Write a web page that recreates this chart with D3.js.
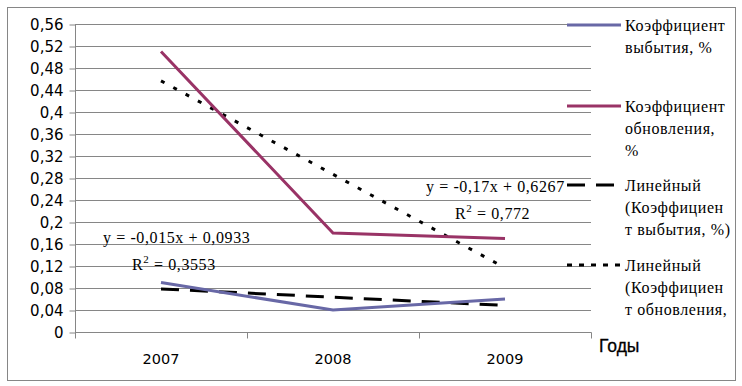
<!DOCTYPE html>
<html><head><meta charset="utf-8">
<script src="https://cdn.jsdelivr.net/npm/d3@7"></script>
<style>body{margin:0;background:#fff}svg{display:block}</style>
</head><body>
<svg id="c" width="742" height="386"></svg>
<script>
const years = ["2007", "2008", "2009"];
const retirement = [0.09, 0.04, 0.06];   // Коэффициент выбытия
const renewal = [0.51, 0.18, 0.17];      // Коэффициент обновления
const yTicks = [0, 0.04, 0.08, 0.12, 0.16, 0.2, 0.24, 0.28, 0.32, 0.36, 0.4, 0.44, 0.48, 0.52, 0.56];
const trendRet = {a: -0.015, b: 0.0933, eq: "y = -0,015x + 0,0933", r2: "0,3553"};
const trendRen = {a: -0.17, b: 0.6267, eq: "y = -0,17x + 0,6267", r2: "0,772"};
const legendLabels = [
  ["Коэффициент", "выбытия, %"],
  ["Коэффициент", "обновления,", "%"],
  ["Линейный", "(Коэффициен", "т выбытия, %)"],
  ["Линейный", "(Коэффициен", "т обновления,"]
];

const svg = d3.select("#c");
const grid = "#868686";
const cRet = "#6868a6", cRen = "#993366";

svg.append("rect").attr("x", 7.5).attr("y", 7.5).attr("width", 728).attr("height", 373)
  .attr("fill", "#fff").attr("stroke", grid).attr("stroke-width", 1);

const x = d3.scaleBand().domain(years).range([75, 591]);
const y = d3.scaleLinear().domain([0, 0.56]).range([332, 24]);
const cx = d => x(d) + x.bandwidth() / 2;

// gridlines
svg.append("g").selectAll("line").data(yTicks.filter(t => t > 0)).join("line")
  .attr("x1", 75).attr("x2", 591)
  .attr("y1", d => Math.round(y(d)) + 0.5).attr("y2", d => Math.round(y(d)) + 0.5)
  .attr("stroke", grid).attr("stroke-width", 1);

// y axis
const yAxis = d3.axisLeft(y).tickValues(yTicks).tickSize(6).tickPadding(6)
  .tickFormat(d => String(d).replace(".", ","));
const gy = svg.append("g").attr("transform", "translate(75.5,0)").call(yAxis);
gy.selectAll("line").attr("stroke", grid).attr("transform", "translate(0,0.5)");
gy.select(".domain").attr("stroke", grid).attr("d", "M0," + y(0.56) + "V" + (y(0) + 0.5));
gy.selectAll("text").attr("font-family", "DejaVu Sans").attr("font-size", 15).attr("fill", "#000")
  .attr("dy", "0.36em").attr("y", 0.5);

// x axis
const gx = svg.append("g").attr("transform", "translate(0," + (y(0) + 0.5) + ")");
gx.append("line").attr("x1", 75).attr("x2", 591.5).attr("stroke", grid);
gx.selectAll("line.tk").data(years.concat(["end"])).join("line").attr("class", "tk")
  .attr("x1", (d, i) => i < 3 ? Math.round(x(d)) + 0.5 : 591.5)
  .attr("x2", (d, i) => i < 3 ? Math.round(x(d)) + 0.5 : 591.5)
  .attr("y1", 0).attr("y2", 6).attr("stroke", grid);
gx.selectAll("text").data(years).join("text")
  .attr("x", d => cx(d)).attr("y", 31).attr("text-anchor", "middle")
  .attr("font-family", "DejaVu Sans").attr("font-size", 14.5).text(d => d);

svg.append("text").attr("x", 599).attr("y", 352).attr("font-family", "Liberation Sans")
  .attr("font-size", 17.5).attr("stroke", "#000").attr("stroke-width", 0.3).text("Годы");

// trend lines
const trendPts = t => years.map((d, i) => [cx(d), y(t.a * (i + 1) + t.b)]);
const line = d3.line();
svg.append("path").attr("d", line(trendPts(trendRet))).attr("fill", "none")
  .attr("stroke", "#000").attr("stroke-width", 3).attr("stroke-dasharray", "18,11");
svg.append("path").attr("d", line(trendPts(trendRen))).attr("fill", "none")
  .attr("stroke", "#000").attr("stroke-width", 3).attr("stroke-dasharray", "4,10");

// series
svg.append("path").attr("d", line(years.map((d, i) => [cx(d), y(retirement[i])])))
  .attr("fill", "none").attr("stroke", cRet).attr("stroke-width", 3);
svg.append("path").attr("d", line(years.map((d, i) => [cx(d), y(renewal[i])])))
  .attr("fill", "none").attr("stroke", cRen).attr("stroke-width", 3);

// equations
function eq(t, ex, ey, rx, ry) {
  svg.append("text").attr("x", ex).attr("y", ey).attr("font-family", "Liberation Serif")
    .attr("font-size", 16).attr("letter-spacing", 0.6).attr("fill", "#000").text(t.eq);
  const r = svg.append("text").attr("x", rx).attr("y", ry).attr("font-family", "Liberation Serif")
    .attr("font-size", 16).attr("letter-spacing", 0.6).attr("fill", "#000");
  r.append("tspan").text("R");
  r.append("tspan").attr("dy", -7).attr("font-size", 11).text("2");
  r.append("tspan").attr("dy", 7).text(" = " + t.r2);
}
eq(trendRet, 103, 243, 132, 270);
eq(trendRen, 426, 192, 455, 219);

// legend
const legY = [25, 106, 185, 265];
const legStyles = [
  {c: cRet, w: 3, d: null},
  {c: cRen, w: 3, d: null},
  {c: "#000", w: 3, d: "18,11"},
  {c: "#000", w: 3, d: "5,7"}
];
const lg = svg.append("g");
legendLabels.forEach((lines, i) => {
  const l = lg.append("line").attr("x1", 567).attr("x2", 621).attr("y1", legY[i]).attr("y2", legY[i])
    .attr("stroke", legStyles[i].c).attr("stroke-width", legStyles[i].w);
  if (legStyles[i].d) l.attr("stroke-dasharray", legStyles[i].d);
  lines.forEach((s, j) => {
    lg.append("text").attr("x", 625).attr("y", legY[i] + 6 + j * 22)
      .attr("font-family", "Liberation Serif").attr("font-size", 16).attr("letter-spacing", 0.6)
      .text(s);
  });
});
</script>
</body></html>
